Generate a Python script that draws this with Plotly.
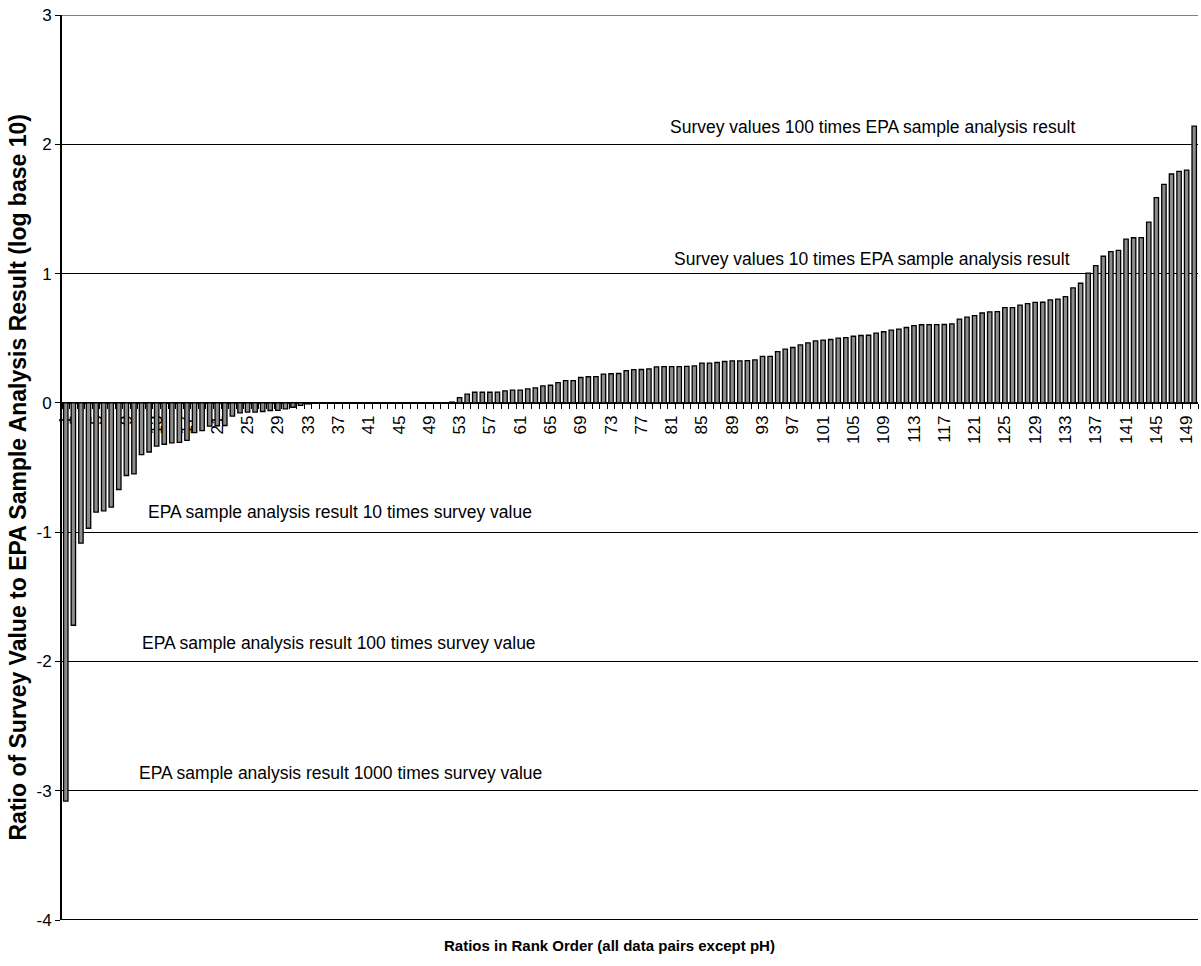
import plotly.graph_objects as go

# ---- data ----
ranks = list(range(1, 151))
log_ratios = [
    -3.08, -1.72, -1.085, -0.97, -0.845, -0.835, -0.807, -0.67, -0.562, -0.549,
    -0.40, -0.38, -0.335, -0.32, -0.31, -0.305, -0.29, -0.23, -0.215, -0.18,
    -0.177, -0.175, -0.103, -0.077, -0.072, -0.072, -0.067, -0.059, -0.058, -0.046,
    -0.034, -0.02, -0.008, 0, 0, 0, 0, 0, 0, 0,
    0, 0, 0, 0, 0, 0, 0, 0, 0, 0,
    0, 0.006, 0.04, 0.067, 0.082, 0.082, 0.082, 0.083, 0.093, 0.098,
    0.099, 0.108, 0.116, 0.131, 0.136, 0.157, 0.172, 0.172, 0.196, 0.202,
    0.203, 0.223, 0.225, 0.227, 0.249, 0.257, 0.258, 0.263, 0.278, 0.281,
    0.281, 0.281, 0.282, 0.286, 0.307, 0.307, 0.312, 0.32, 0.325, 0.325,
    0.327, 0.332, 0.36, 0.36, 0.397, 0.415, 0.428, 0.448, 0.464, 0.479,
    0.485, 0.49, 0.501, 0.505, 0.515, 0.521, 0.523, 0.54, 0.55, 0.562,
    0.571, 0.583, 0.598, 0.604, 0.605, 0.605, 0.606, 0.611, 0.648, 0.663,
    0.674, 0.695, 0.703, 0.706, 0.736, 0.737, 0.756, 0.768, 0.777, 0.778,
    0.797, 0.803, 0.822, 0.889, 0.925, 1.003, 1.062, 1.134, 1.17, 1.179,
    1.266, 1.277, 1.278, 1.398, 1.588, 1.69, 1.77, 1.79, 1.80, 2.14,
]
x_tick_vals = list(range(1, 151, 4))
x_tick_text = [str(v) for v in x_tick_vals]
y_tick_vals = [-4, -3, -2, -1, 0, 1, 2, 3]
y_tick_text = ["-4", "-3", "-2", "-1", "0", "1", "2", "3"]

ref_texts = [
    "Survey values 100 times EPA sample analysis result",
    "Survey values 10 times EPA sample analysis result",
    "EPA sample analysis result 10 times survey value",
    "EPA sample analysis result 100 times survey value",
    "EPA sample analysis result 1000 times survey value",
]

x_title = "Ratios in Rank Order (all data pairs except pH)"
y_title = "Ratio of Survey Value to EPA Sample Analysis Result (log base 10)"

FONT = "Liberation Sans, Arial, Helvetica, sans-serif"
Y_MIN, Y_MAX = -4, 3

fig = go.Figure()
fig.add_trace(go.Bar(
    x=ranks, y=log_ratios,
    marker=dict(color="#8c8c8c", line=dict(color="#000000", width=1.3)),
    showlegend=False,
))

fig.update_layout(
    width=1201, height=966,
    margin=dict(l=62, r=3, t=15, b=46, autoexpand=False),
    paper_bgcolor="white", plot_bgcolor="white",
    bargap=0.42,
    font=dict(family=FONT, color="#000000"),
    xaxis=dict(
        range=[0.5, 150.5],
        anchor="free",
        position=(0 - Y_MIN) / (Y_MAX - Y_MIN),
        automargin=False,
        tickmode="array", tickvals=x_tick_vals, ticktext=x_tick_text,
        tickangle=-90,
        ticks="outside", ticklen=5, tickcolor="rgba(0,0,0,0)",
        tickfont=dict(size=17, family=FONT, color="#000000"),
        minor=dict(ticks="outside", ticklen=5, tickcolor="#000000", tickwidth=1,
                   tickmode="linear", tick0=0.5, dtick=1, showgrid=False),
        showline=True, linecolor="#000000", linewidth=1,
        showgrid=False, zeroline=False,
        layer="below traces",
    ),
    yaxis=dict(
        range=[Y_MIN, Y_MAX],
        automargin=False,
        tickmode="array", tickvals=y_tick_vals, ticktext=y_tick_text,
        ticks="outside", ticklen=5, tickcolor="#000000", tickwidth=1,
        tickfont=dict(size=17, family=FONT, color="#000000"),
        showline=True, linecolor="#000000", linewidth=2,
        showgrid=True, gridcolor="#000000", gridwidth=1,
        zeroline=False,
        layer="above traces",
    ),
)

# frame lines (top thin, bottom thick)
fig.add_shape(type="line", xref="paper", yref="y", x0=0, x1=1, y0=Y_MAX, y1=Y_MAX,
              line=dict(color="#000000", width=1))
fig.add_shape(type="line", xref="paper", yref="y", x0=0, x1=1, y0=Y_MIN, y1=Y_MIN,
              line=dict(color="#000000", width=2))

# reference-line labels
right_pos = [(0.8935, 2.134), (0.889, 1.113)]
for (xp, yv), txt in zip(right_pos, ref_texts[:2]):
    fig.add_annotation(x=xp, xref="paper", y=yv, yref="y", text=txt, showarrow=False,
                       xanchor="right", yanchor="middle",
                       font=dict(size=17.5, family=FONT, color="#000000"))
left_pos = [(0.0739, -0.845), (0.0687, -1.86), (0.0660, -2.86)]
for (xp, yv), txt in zip(left_pos, ref_texts[2:]):
    fig.add_annotation(x=xp, xref="paper", y=yv, yref="y", text=txt, showarrow=False,
                       xanchor="left", yanchor="middle",
                       font=dict(size=17.5, family=FONT, color="#000000"))

# axis titles
fig.add_annotation(x=0.482, xref="paper", y=-0.0287, yref="paper", text="<b>" + x_title + "</b>",
                   showarrow=False, xanchor="center", yanchor="middle",
                   font=dict(size=15, family=FONT, color="#000000"))
fig.add_annotation(x=-0.0387, xref="paper", y=0.489, yref="paper", text="<b>" + y_title + "</b>",
                   showarrow=False, xanchor="center", yanchor="middle", textangle=-90,
                   font=dict(size=23, family=FONT, color="#000000"))

# remove the default page margin so the figure sits at the window's top-left corner
fig.write_html("out.html", config={"displayModeBar": False},
               post_script="document.body.style.margin='0';")
